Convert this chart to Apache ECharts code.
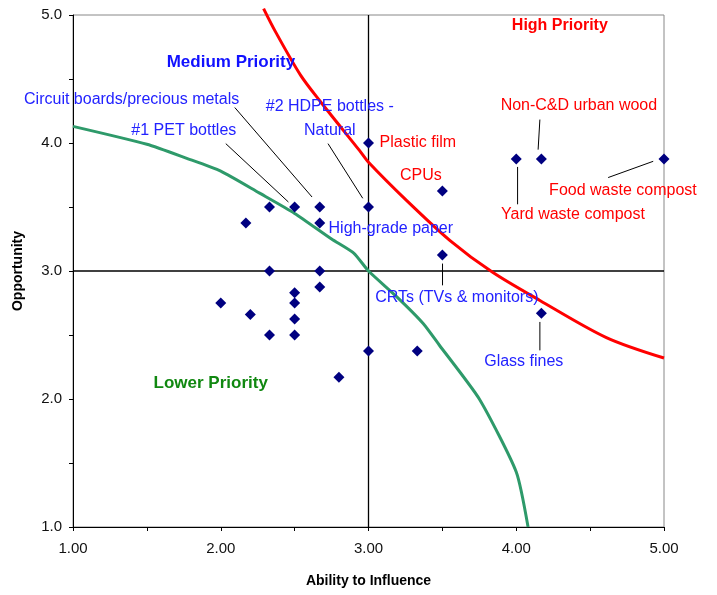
<!DOCTYPE html>
<html>
<head>
<meta charset="utf-8">
<script src="https://cdn.jsdelivr.net/npm/echarts@6/dist/echarts.min.js"></script>
<style>
  html, body { margin: 0; padding: 0; background: #fff; }
  #chart { width: 717px; height: 595px; }
</style>
</head>
<body>
<div id="chart"></div>
<script>
// materials: [ability to influence, opportunity]
const points = [
  [2.33, 3.5], [2.5, 3.5], [2.67, 3.5], [3.0, 3.5],
  [2.17, 3.375], [2.67, 3.375],
  [2.33, 3.0], [2.67, 3.0],
  [2.5, 2.83], [2.67, 2.875],
  [2.0, 2.75], [2.5, 2.75],
  [2.2, 2.66], [2.5, 2.625],
  [2.33, 2.5], [2.5, 2.5],
  [3.0, 2.375], [3.33, 2.375], [2.8, 2.17],
  [3.0, 4.0], [3.5, 3.625], [3.5, 3.125],
  [4.0, 3.875], [4.17, 3.875], [5.0, 3.875],
  [4.17, 2.67]
]

// boundary curves
const lowerCurve = [
  [1.0, 4.13], [1.5, 3.99], [1.77, 3.88], [2.0, 3.78], [2.26, 3.61], [2.5, 3.45],
  [2.75, 3.25], [2.9, 3.14], [3.0, 3.0], [3.19, 2.8], [3.37, 2.59], [3.48, 2.42],
  [3.75, 2.0], [4.0, 1.43], [4.08, 1.0]
]
const upperCurve = [
  [2.29, 5.05], [2.37, 4.87], [2.54, 4.53], [2.67, 4.33], [2.94, 3.94], [3.0, 3.85],
  [3.25, 3.56], [3.55, 3.24], [3.84, 2.99], [4.16, 2.77], [4.61, 2.48], [5.0, 2.32]
]

const xTicks = [1, 2, 3, 4, 5]
const yTicks = [1, 2, 3, 4, 5]

const BLUE = '#2222ff'
const RED = '#ff0000'
const GREEN = '#118811'
const NAVY = '#000080'

// annotation layout: [text, x, y, color, bold, size]
const notes = [
  ['Medium Priority', 2.069, 4.63, '#1111ff', true, 17],
  ['High Priority', 4.295, 4.92, RED, true, 16],
  ['Lower Priority', 1.932, 2.123, GREEN, true, 17],
  ['Circuit boards/precious metals', 1.397, 4.341, BLUE, false, 16],
  ['#1 PET bottles', 1.75, 4.099, BLUE, false, 16],
  ['#2 HDPE bottles -\nNatural', 2.738, 4.192, BLUE, false, 16],
  ['High-grade paper', 3.151, 3.329, BLUE, false, 16],
  ['CRTs (TVs & monitors)', 3.598, 2.795, BLUE, false, 16],
  ['Glass fines', 4.051, 2.295, BLUE, false, 16],
  ['Plastic film', 3.334, 4.005, RED, false, 16],
  ['CPUs', 3.354, 3.747, RED, false, 16],
  ['Non-C&D urban wood', 4.424, 4.295, RED, false, 16],
  ['Food waste compost', 4.722, 3.631, RED, false, 16],
  ['Yard waste compost', 4.384, 3.443, RED, false, 16]
]

// leader lines
const leaders = [
  [[2.095, 4.277], [2.618, 3.578]],
  [[2.034, 3.995], [2.458, 3.539]],
  [[2.726, 3.995], [2.961, 3.568]],
  [[4.16, 4.183], [4.148, 3.948]],
  [[4.009, 3.813], [4.009, 3.521]],
  [[4.927, 3.857], [4.622, 3.73]],
  [[3.501, 3.058], [3.501, 2.888]],
  [[4.16, 2.602], [4.16, 2.38]]
]

const chart = echarts.init(document.getElementById('chart'))

const FONT = 'Liberation Sans, Arial, sans-serif'

const leaderSeries = leaders.map((seg) => ({
  type: 'line',
  data: seg,
  symbol: 'none',
  silent: true,
  lineStyle: { color: '#000', width: 1 },
  z: 3
}))

const noteSeries = {
  type: 'scatter',
  symbolSize: 0,
  silent: true,
  itemStyle: { opacity: 1 },
  data: notes.map((n) => ({
    value: [n[1], n[2]],
    label: {
      show: true,
      position: 'inside',
      formatter: n[0],
      color: n[3],
      fontWeight: n[4] ? 'bold' : 'normal',
      fontSize: n[5],
      lineHeight: 24,
      fontFamily: FONT
    }
  })),
  z: 6
}

const option = {
  animation: false,
  backgroundColor: '#fff',
  grid: {
    left: 73, right: 53, top: 15, bottom: 68,
    show: true, borderColor: '#888', borderWidth: 1, backgroundColor: 'transparent'
  },
  xAxis: {
    type: 'value',
    min: 1, max: 5, interval: 0.5,
    name: 'Ability to Influence',
    nameLocation: 'middle',
    nameGap: 47,
    nameTextStyle: { color: '#000', fontWeight: 'bold', fontSize: 14, fontFamily: FONT },
    axisLine: { show: true, lineStyle: { color: '#000', width: 1 } },
    axisTick: { show: true, length: 4, lineStyle: { color: '#000' } },
    axisLabel: {
      color: '#111', fontSize: 15, fontFamily: FONT, margin: 14,
      formatter: (v) => xTicks.includes(v) ? v.toFixed(2) : ''
    },
    splitLine: { show: false }
  },
  yAxis: {
    type: 'value',
    min: 1, max: 5, interval: 0.5,
    name: 'Opportunity',
    nameLocation: 'middle',
    nameGap: 48,
    nameTextStyle: { color: '#000', fontWeight: 'bold', fontSize: 14, fontFamily: FONT },
    axisLine: { show: true, lineStyle: { color: '#000', width: 1 } },
    axisTick: { show: true, length: 4, lineStyle: { color: '#000' } },
    axisLabel: {
      color: '#111', fontSize: 15, fontFamily: FONT, margin: 11,
      formatter: (v) => yTicks.includes(v) ? v.toFixed(1) : ''
    },
    splitLine: { show: false }
  },
  series: [
    {
      type: 'line',
      data: [[3, 1], [3, 5]],
      symbol: 'none',
      silent: true,
      lineStyle: { color: '#000', width: 1.3 },
      z: 2
    },
    {
      type: 'line',
      data: [[1, 3], [5, 3]],
      symbol: 'none',
      silent: true,
      lineStyle: { color: '#000', width: 1.3 },
      z: 2
    },
    {
      type: 'line',
      data: lowerCurve,
      symbol: 'none',
      smooth: 0.2,
      silent: true,
      lineStyle: { color: '#2e9a6a', width: 3 },
      z: 3
    },
    {
      type: 'line',
      data: upperCurve,
      symbol: 'none',
      smooth: 0.3,
      clip: false,
      silent: true,
      lineStyle: { color: RED, width: 3 },
      z: 3
    },
    ...leaderSeries,
    {
      type: 'scatter',
      data: points,
      symbol: 'diamond',
      symbolSize: 11,
      itemStyle: { color: NAVY, opacity: 1 },
      z: 5
    },
    noteSeries
  ]
}

chart.setOption(option)
</script>
</body>
</html>
